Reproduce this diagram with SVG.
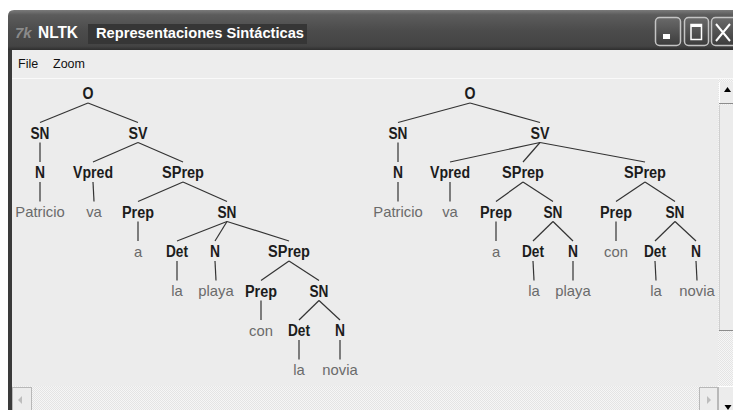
<svg xmlns="http://www.w3.org/2000/svg" width="733" height="410" viewBox="0 0 733 410">
<defs>
<linearGradient id="tb" x1="0" y1="0" x2="0" y2="1">
<stop offset="0" stop-color="#7a7a7a"/><stop offset="0.12" stop-color="#5c5c5c"/><stop offset="0.5" stop-color="#4c4c4c"/><stop offset="0.9" stop-color="#444"/><stop offset="1" stop-color="#2e2e2e"/>
</linearGradient>
<linearGradient id="btn" x1="0" y1="0" x2="0" y2="1">
<stop offset="0" stop-color="#6a6a6a"/><stop offset="1" stop-color="#3c3c3c"/>
</linearGradient>
<pattern id="chk" width="2" height="2" patternUnits="userSpaceOnUse">
<rect width="2" height="2" fill="#f6f6f6"/><rect width="1" height="1" fill="#e4e4e4"/><rect x="1" y="1" width="1" height="1" fill="#e4e4e4"/>
</pattern>
<style>
.nt{font-family:"Liberation Sans",Arial,sans-serif;font-size:16px;font-weight:bold;fill:#1c1c1c;text-anchor:middle}
.lf{font-family:"Liberation Sans",Arial,sans-serif;font-size:14.8px;fill:#6a6a6a;text-anchor:middle}
.menu{font-family:"Liberation Sans",Arial,sans-serif;font-size:12.5px;fill:#111}
.tt{font-family:"Liberation Sans",Arial,sans-serif;font-weight:bold;fill:#fff}
.ed line{stroke:#333;stroke-width:1.2}
.bt{fill:url(#btn);stroke:#c4c4c4;stroke-width:1.5}
</style>
</defs>
<rect width="733" height="410" fill="#fff"/>
<g id="window">
<path d="M8,16 Q8,10 14,10 L733,10 L733,50 L8,50 Z" fill="url(#tb)"/>
<rect x="8" y="50" width="4" height="360" fill="#3a3a3a"/>
<rect x="12" y="50" width="721" height="28" fill="#ededed"/>
<line x1="12" y1="78.5" x2="733" y2="78.5" stroke="#fafafa"/>
<rect x="12" y="79" width="706" height="307" fill="#ececec"/>
<text x="15" y="38" font-family="Liberation Sans,Arial,sans-serif" font-size="15" font-style="italic" font-weight="bold" fill="#8a8a8a">7k</text>
<text class="tt" x="38" y="38.3" font-size="16" textLength="40" lengthAdjust="spacingAndGlyphs">NLTK</text>
<rect x="88" y="24" width="219" height="20" fill="#363636"/>
<text class="tt" x="96" y="38.3" font-size="15" textLength="208" lengthAdjust="spacingAndGlyphs">Representaciones Sintácticas</text>
<rect class="bt" x="655.5" y="17.5" width="25" height="28" rx="4"/>
<rect x="663" y="34" width="7" height="5" fill="#fff"/>
<rect class="bt" x="684.5" y="17.5" width="24" height="28" rx="4"/>
<rect x="691" y="24.5" width="10.5" height="15" fill="none" stroke="#fff" stroke-width="1.5"/>
<rect x="691" y="24" width="10.5" height="3" fill="#fff"/>
<rect class="bt" x="711.5" y="17.5" width="26" height="28" rx="4"/>
<path d="M716,24 L730,41 M730,24 L716,41" stroke="#fff" stroke-width="2"/>
<text class="menu" x="18" y="68">File</text>
<text class="menu" x="53" y="68">Zoom</text>
<rect x="718" y="79" width="15" height="307" fill="url(#chk)"/>
<rect x="719" y="82" width="14" height="22" fill="#ececec"/>
<line x1="719" y1="103.5" x2="733" y2="103.5" stroke="#8c8c8c"/>
<line x1="719.5" y1="82" x2="719.5" y2="103" stroke="#fff"/>
<path d="M724,92 L727.5,87 L731,92 Z" fill="#000"/>
<rect x="719" y="105" width="14" height="225" fill="#ececec"/>
<line x1="719.5" y1="105" x2="719.5" y2="330" stroke="#cfcfcf"/>
<line x1="719" y1="330.5" x2="733" y2="330.5" stroke="#8c8c8c"/>
<rect x="12" y="386" width="706" height="24" fill="url(#chk)"/>
<rect x="12.5" y="387.5" width="19" height="23" fill="#ececec" stroke="#b8b8b8"/>
<path d="M18,400 L22,396 L22,404 Z" fill="#bdbdbd"/>
<rect x="699.5" y="387.5" width="18" height="23" fill="#ececec" stroke="#b8b8b8"/>
<path d="M711,400 L707,396 L707,404 Z" fill="#bdbdbd"/>
<rect x="718" y="387" width="15" height="23" fill="#ececec"/>
<line x1="718.5" y1="387" x2="718.5" y2="410" stroke="#b8b8b8"/>
<path d="M724.5,405 L731.5,405 L728,410 Z" fill="#000"/>
</g>
<g id="connectors" class="ed">
<line x1="88" y1="103" x2="40" y2="122.5"/>
<line x1="88" y1="103" x2="138" y2="122.5"/>
<line x1="40" y1="142.5" x2="40" y2="162"/>
<line x1="138" y1="142.5" x2="93" y2="162"/>
<line x1="138" y1="142.5" x2="183" y2="162"/>
<line x1="40" y1="182" x2="40" y2="201.5"/>
<line x1="93" y1="182" x2="94" y2="201.5"/>
<line x1="183" y1="182" x2="138" y2="201.5"/>
<line x1="183" y1="182" x2="227" y2="201.5"/>
<line x1="138" y1="221.5" x2="138" y2="241"/>
<line x1="227" y1="221.5" x2="177" y2="241"/>
<line x1="227" y1="221.5" x2="215" y2="241"/>
<line x1="227" y1="221.5" x2="289" y2="241"/>
<line x1="177" y1="261" x2="177" y2="280.5"/>
<line x1="215" y1="261" x2="216" y2="280.5"/>
<line x1="289" y1="261" x2="261" y2="280.5"/>
<line x1="289" y1="261" x2="319" y2="280.5"/>
<line x1="261" y1="300.5" x2="261" y2="320"/>
<line x1="319" y1="300.5" x2="299" y2="320"/>
<line x1="319" y1="300.5" x2="340" y2="320"/>
<line x1="299" y1="340" x2="299" y2="359.5"/>
<line x1="340" y1="340" x2="340" y2="359.5"/>
<line x1="470" y1="103" x2="398" y2="122.5"/>
<line x1="470" y1="103" x2="540" y2="122.5"/>
<line x1="398" y1="142.5" x2="398" y2="162"/>
<line x1="540" y1="142.5" x2="450" y2="162"/>
<line x1="540" y1="142.5" x2="523" y2="162"/>
<line x1="540" y1="142.5" x2="645" y2="162"/>
<line x1="398" y1="182" x2="398" y2="201.5"/>
<line x1="450" y1="182" x2="450" y2="201.5"/>
<line x1="523" y1="182" x2="496" y2="201.5"/>
<line x1="523" y1="182" x2="553" y2="201.5"/>
<line x1="645" y1="182" x2="616" y2="201.5"/>
<line x1="645" y1="182" x2="675" y2="201.5"/>
<line x1="496" y1="221.5" x2="496" y2="241"/>
<line x1="553" y1="221.5" x2="533" y2="241"/>
<line x1="553" y1="221.5" x2="573" y2="241"/>
<line x1="616" y1="221.5" x2="616" y2="241"/>
<line x1="675" y1="221.5" x2="655" y2="241"/>
<line x1="675" y1="221.5" x2="696" y2="241"/>
<line x1="533" y1="261" x2="534" y2="280.5"/>
<line x1="573" y1="261" x2="573" y2="280.5"/>
<line x1="655" y1="261" x2="656" y2="280.5"/>
<line x1="696" y1="261" x2="697" y2="280.5"/>
</g>
<g id="l-O"><text class="nt" x="88" y="99" textLength="11" lengthAdjust="spacingAndGlyphs">O</text></g>
<g id="l-SN"><text class="nt" x="40" y="138.5" textLength="19" lengthAdjust="spacingAndGlyphs">SN</text></g>
<g id="l-SV"><text class="nt" x="138" y="138.5" textLength="19" lengthAdjust="spacingAndGlyphs">SV</text></g>
<g id="l-N"><text class="nt" x="40" y="178" textLength="10" lengthAdjust="spacingAndGlyphs">N</text></g>
<g id="l-Vpred"><text class="nt" x="93" y="178" textLength="40" lengthAdjust="spacingAndGlyphs">Vpred</text></g>
<g id="l-SPrep"><text class="nt" x="183" y="178" textLength="42" lengthAdjust="spacingAndGlyphs">SPrep</text></g>
<g id="l-Patricio"><text class="lf" x="40" y="217">Patricio</text></g>
<g id="l-va"><text class="lf" x="94" y="217">va</text></g>
<g id="l-Prep"><text class="nt" x="138" y="217.5" textLength="32" lengthAdjust="spacingAndGlyphs">Prep</text></g>
<g id="l-SN2"><text class="nt" x="227" y="217.5" textLength="19" lengthAdjust="spacingAndGlyphs">SN</text></g>
<g id="l-a"><text class="lf" x="138" y="256.5">a</text></g>
<g id="l-Det"><text class="nt" x="177" y="257" textLength="22" lengthAdjust="spacingAndGlyphs">Det</text></g>
<g id="l-N2"><text class="nt" x="215" y="257" textLength="10" lengthAdjust="spacingAndGlyphs">N</text></g>
<g id="l-SPrep2"><text class="nt" x="289" y="257" textLength="42" lengthAdjust="spacingAndGlyphs">SPrep</text></g>
<g id="l-la"><text class="lf" x="177" y="296">la</text></g>
<g id="l-playa"><text class="lf" x="216" y="296">playa</text></g>
<g id="l-Prep2"><text class="nt" x="261" y="296.5" textLength="32" lengthAdjust="spacingAndGlyphs">Prep</text></g>
<g id="l-SN3"><text class="nt" x="319" y="296.5" textLength="19" lengthAdjust="spacingAndGlyphs">SN</text></g>
<g id="l-con"><text class="lf" x="261" y="335.5">con</text></g>
<g id="l-Det2"><text class="nt" x="299" y="336" textLength="22" lengthAdjust="spacingAndGlyphs">Det</text></g>
<g id="l-N3"><text class="nt" x="340" y="336" textLength="10" lengthAdjust="spacingAndGlyphs">N</text></g>
<g id="l-la2"><text class="lf" x="299" y="375">la</text></g>
<g id="l-novia"><text class="lf" x="340" y="375">novia</text></g>
<g id="r-O"><text class="nt" x="470" y="99" textLength="11" lengthAdjust="spacingAndGlyphs">O</text></g>
<g id="r-SN"><text class="nt" x="398" y="138.5" textLength="19" lengthAdjust="spacingAndGlyphs">SN</text></g>
<g id="r-SV"><text class="nt" x="540" y="138.5" textLength="19" lengthAdjust="spacingAndGlyphs">SV</text></g>
<g id="r-N"><text class="nt" x="398" y="178" textLength="10" lengthAdjust="spacingAndGlyphs">N</text></g>
<g id="r-Vpred"><text class="nt" x="450" y="178" textLength="40" lengthAdjust="spacingAndGlyphs">Vpred</text></g>
<g id="r-SPrep"><text class="nt" x="523" y="178" textLength="42" lengthAdjust="spacingAndGlyphs">SPrep</text></g>
<g id="r-SPrep2"><text class="nt" x="645" y="178" textLength="42" lengthAdjust="spacingAndGlyphs">SPrep</text></g>
<g id="r-Patricio"><text class="lf" x="398" y="217">Patricio</text></g>
<g id="r-va"><text class="lf" x="450" y="217">va</text></g>
<g id="r-Prep"><text class="nt" x="496" y="217.5" textLength="32" lengthAdjust="spacingAndGlyphs">Prep</text></g>
<g id="r-SN2"><text class="nt" x="553" y="217.5" textLength="19" lengthAdjust="spacingAndGlyphs">SN</text></g>
<g id="r-Prep2"><text class="nt" x="616" y="217.5" textLength="32" lengthAdjust="spacingAndGlyphs">Prep</text></g>
<g id="r-SN3"><text class="nt" x="675" y="217.5" textLength="19" lengthAdjust="spacingAndGlyphs">SN</text></g>
<g id="r-a"><text class="lf" x="496" y="256.5">a</text></g>
<g id="r-Det"><text class="nt" x="533" y="257" textLength="22" lengthAdjust="spacingAndGlyphs">Det</text></g>
<g id="r-N2"><text class="nt" x="573" y="257" textLength="10" lengthAdjust="spacingAndGlyphs">N</text></g>
<g id="r-con"><text class="lf" x="616" y="256.5">con</text></g>
<g id="r-Det2"><text class="nt" x="655" y="257" textLength="22" lengthAdjust="spacingAndGlyphs">Det</text></g>
<g id="r-N3"><text class="nt" x="696" y="257" textLength="10" lengthAdjust="spacingAndGlyphs">N</text></g>
<g id="r-la"><text class="lf" x="534" y="296">la</text></g>
<g id="r-playa"><text class="lf" x="573" y="296">playa</text></g>
<g id="r-la2"><text class="lf" x="656" y="296">la</text></g>
<g id="r-novia"><text class="lf" x="697" y="296">novia</text></g>
</svg>
